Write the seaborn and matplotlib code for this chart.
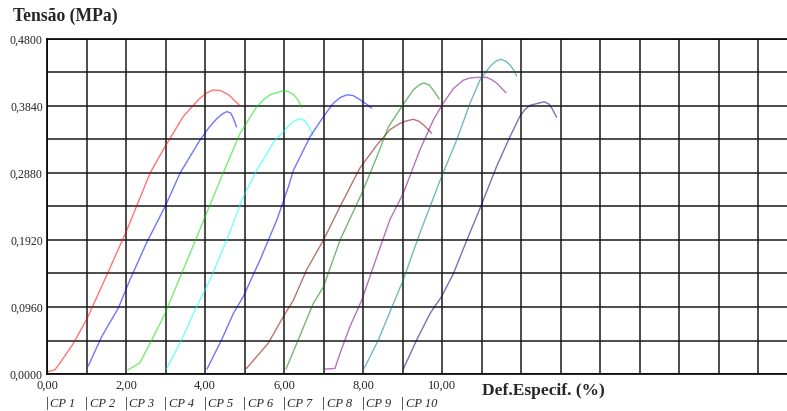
import numpy as np
import pandas as pd
import matplotlib
matplotlib.use("Agg")
import matplotlib.pyplot as plt
import seaborn as sns

# ---- data ----
cp_names = ["CP 1", "CP 2", "CP 3", "CP 4", "CP 5", "CP 6", "CP 7", "CP 8", "CP 9", "CP 10"]
cp_colors = ["#ff0000", "#0000ff", "#00e000", "#00ffff", "#0000ff",
             "#800000", "#008000", "#800080", "#008080", "#000080"]

cp1_x = [0.00, 0.20, 0.33, 0.67, 1.02, 1.54, 2.02, 2.61, 2.99, 3.45, 3.87, 4.05, 4.21, 4.40, 4.60, 4.87]
cp1_y = [0.003, 0.006, 0.016, 0.044, 0.080, 0.145, 0.206, 0.288, 0.326, 0.369, 0.395, 0.403, 0.407, 0.406, 0.400, 0.385]
cp2_x = [1.04, 1.38, 1.81, 2.10, 2.52, 2.99, 3.37, 3.87, 4.10, 4.30, 4.45, 4.55, 4.65, 4.72, 4.80]
cp2_y = [0.011, 0.053, 0.095, 0.135, 0.188, 0.240, 0.288, 0.335, 0.353, 0.366, 0.373, 0.376, 0.374, 0.366, 0.354]
cp3_x = [2.05, 2.35, 2.61, 2.99, 3.37, 3.66, 4.00, 4.46, 4.89, 5.31, 5.50, 5.65, 5.80, 5.94, 6.10, 6.25, 6.36, 6.45]
cp3_y = [0.006, 0.016, 0.044, 0.087, 0.139, 0.178, 0.225, 0.288, 0.345, 0.383, 0.394, 0.400, 0.403, 0.405, 0.405, 0.400, 0.392, 0.382]
cp4_x = [3.02, 3.41, 3.75, 4.13, 4.55, 4.97, 5.31, 5.77, 5.95, 6.11, 6.25, 6.41, 6.52, 6.62, 6.74]
cp4_y = [0.007, 0.049, 0.092, 0.135, 0.192, 0.254, 0.292, 0.335, 0.345, 0.355, 0.362, 0.366, 0.363, 0.355, 0.342]
cp5_x = [4.05, 4.42, 4.72, 4.97, 5.39, 5.82, 6.11, 6.24, 6.66, 7.00, 7.25, 7.42, 7.59, 7.75, 7.92, 8.08, 8.22]
cp5_y = [0.007, 0.049, 0.087, 0.111, 0.163, 0.221, 0.268, 0.292, 0.340, 0.369, 0.388, 0.396, 0.400, 0.399, 0.393, 0.387, 0.381]
cp6_x = [5.05, 5.60, 5.98, 6.24, 6.57, 7.00, 7.42, 7.92, 8.35, 8.68, 8.90, 9.06, 9.27, 9.42, 9.53, 9.64, 9.74]
cp6_y = [0.008, 0.044, 0.082, 0.106, 0.149, 0.192, 0.240, 0.295, 0.328, 0.350, 0.358, 0.362, 0.365, 0.362, 0.357, 0.351, 0.345]
cp7_x = [6.05, 6.36, 6.74, 7.00, 7.42, 7.97, 8.35, 8.64, 8.98, 9.27, 9.42, 9.54, 9.68, 9.80, 9.93]
cp7_y = [0.007, 0.049, 0.101, 0.125, 0.192, 0.259, 0.311, 0.354, 0.383, 0.407, 0.414, 0.417, 0.414, 0.405, 0.394]
cp8_x = [7.03, 7.29, 7.42, 7.67, 7.97, 8.35, 8.68, 9.02, 9.44, 9.78, 10.03, 10.29, 10.54, 10.70, 10.88, 11.13, 11.28, 11.38, 11.50, 11.62]
cp8_y = [0.007, 0.008, 0.030, 0.068, 0.106, 0.168, 0.221, 0.259, 0.321, 0.364, 0.388, 0.409, 0.421, 0.424, 0.425, 0.425, 0.421, 0.417, 0.410, 0.403]
cp9_x = [8.02, 8.39, 8.77, 9.02, 9.44, 9.99, 10.37, 10.71, 10.96, 11.22, 11.36, 11.49, 11.62, 11.72, 11.81, 11.89]
cp9_y = [0.007, 0.049, 0.101, 0.135, 0.202, 0.283, 0.335, 0.388, 0.421, 0.441, 0.448, 0.451, 0.448, 0.443, 0.436, 0.427]
cp10_x = [9.02, 9.36, 9.70, 9.99, 10.29, 10.63, 10.96, 11.38, 11.72, 11.97, 12.10, 12.23, 12.44, 12.59, 12.70, 12.78, 12.90]
cp10_y = [0.007, 0.049, 0.087, 0.111, 0.144, 0.192, 0.237, 0.297, 0.340, 0.369, 0.379, 0.385, 0.388, 0.390, 0.387, 0.381, 0.368]

all_x = [cp1_x, cp2_x, cp3_x, cp4_x, cp5_x, cp6_x, cp7_x, cp8_x, cp9_x, cp10_x]
all_y = [cp1_y, cp2_y, cp3_y, cp4_y, cp5_y, cp6_y, cp7_y, cp8_y, cp9_y, cp10_y]

y_ticks = [0.0, 0.096, 0.192, 0.288, 0.384, 0.48]
y_labels = ["0,0000", "0,0960", "0,1920", "0,2880", "0,3840", "0,4800"]
x_label_vals = [0, 2, 4, 6, 8, 10]
x_labels = ["0,00", "2,00", "4,00", "6,00", "8,00", "10,00"]

rows = []
for name, xs, ys in zip(cp_names, all_x, all_y):
    for i, (xv, yv) in enumerate(zip(xs, ys)):
        rows.append({"CP": name, "order": i, "x": xv, "y": yv})
df = pd.DataFrame(rows)

sns.set_style("white")
plt.rcParams["font.family"] = ["Liberation Serif", "DejaVu Serif"]

fig = plt.figure(figsize=(7.87, 4.11), dpi=100)
W, H = 787, 411
ax_left, ax_right, ax_top, ax_bottom = 47, 787, 39, 374
ax = fig.add_axes([ax_left / W, (H - ax_bottom) / H, (ax_right - ax_left) / W, (ax_bottom - ax_top) / H])

xmax = (ax_right - ax_left) / 39.5
ax.set_xlim(0, xmax)
ax.set_ylim(0, 0.48)

# grid
ax.set_yticks(y_ticks)
ax.set_yticklabels(y_labels)
ax.set_yticks(np.arange(0, 0.48 + 1e-9, 0.048), minor=True)
ax.set_xticks(np.arange(0, 19, 1))
lbl = []
for v in range(0, 19):
    lbl.append(x_labels[x_label_vals.index(v)] if v in x_label_vals else "")
ax.set_xticklabels(lbl)
ax.grid(which="both", axis="both", color="#1a1a1a", linewidth=1.1)
ax.set_axisbelow(True)
ax.tick_params(axis="y", which="major", length=2.5, width=1, color="black", labelsize=8.6, pad=0.5)
ax.tick_params(axis="y", which="minor", length=0)
ax.tick_params(axis="x", which="major", length=0, labelsize=9, pad=4)
ax.spines["right"].set_visible(False)
for s in ["left", "bottom", "top"]:
    ax.spines[s].set_color("black")
    ax.spines[s].set_linewidth(1.2)

palette = dict(zip(cp_names, cp_colors))
sns.lineplot(data=df, x="x", y="y", hue="CP", units="CP", estimator=None, sort=False,
             palette=palette, legend=False, linewidth=1.0, alpha=0.55, ax=ax)
ax.set_xlabel("")
ax.set_ylabel("")

# titles
fig.text(13 / W, 1 - 16 / H, "Tensão (MPa)", fontsize=12.7, fontweight="bold", ha="left", va="center")
fig.text(482 / W, 1 - 390.5 / H, "Def.Especif. (%)", fontsize=12.5, fontweight="bold", ha="left", va="center")

# CP labels below the axis
for i, name in enumerate(cp_names):
    ax.annotate("|", xy=(i, 0), xycoords=("data", "axes fraction"), xytext=(0, -21.5),
                textcoords="offset points", ha="center", va="center", fontsize=10.5, annotation_clip=False)
    ax.annotate(name, xy=(i, 0), xycoords=("data", "axes fraction"), xytext=(2.5, -21.5),
                textcoords="offset points", ha="left", va="center", fontsize=9,
                style="italic", annotation_clip=False)

fig.savefig("out.png", dpi=100)
